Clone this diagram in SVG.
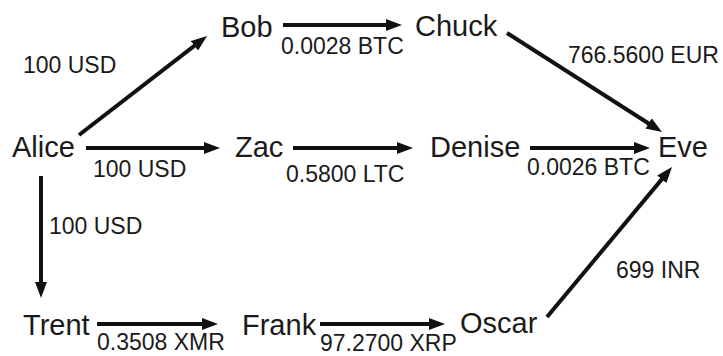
<svg xmlns="http://www.w3.org/2000/svg" width="723" height="356" viewBox="0 0 723 356">
  <style>
    .node { font-family: "Liberation Sans", Arial, sans-serif; font-size: 29px; fill: #1a1a1a; }
    .lbl { font-family: "Liberation Sans", Arial, sans-serif; font-size: 23px; fill: #1a1a1a; }
    .edge { stroke: #111; stroke-width: 4; fill: none; marker-end: url(#head); }
  </style>
  <defs>
    <marker id="head" viewBox="0 0 16 12" refX="8" refY="6" markerWidth="16" markerHeight="12" markerUnits="userSpaceOnUse" orient="auto">
      <path d="M0,0 L16,6 L0,12 z" fill="#111"/>
    </marker>
  </defs>

  <g id="connectors">
    <line class="edge" x1="79" y1="135" x2="200.7" y2="40.9"/>
    <line class="edge" x1="86" y1="148" x2="212" y2="148"/>
    <line class="edge" x1="41" y1="176" x2="41" y2="290"/>
    <line class="edge" x1="283" y1="25" x2="394" y2="25"/>
    <line class="edge" x1="293" y1="148" x2="405" y2="148"/>
    <line class="edge" x1="530" y1="148" x2="642" y2="148"/>
    <line class="edge" x1="507" y1="33" x2="655.3" y2="127.7"/>
    <line class="edge" x1="547" y1="317" x2="666.9" y2="173.1"/>
    <line class="edge" x1="97" y1="324" x2="210" y2="324"/>
    <line class="edge" x1="320" y1="324" x2="437" y2="324"/>
  </g>

  <g id="edge-labels">
    <text class="lbl" x="23" y="73">100 USD</text>
    <text class="lbl" x="281" y="54">0.0028 BTC</text>
    <text class="lbl" x="93" y="177">100 USD</text>
    <text class="lbl" x="286" y="182">0.5800 LTC</text>
    <text class="lbl" x="527" y="175">0.0026 BTC</text>
    <text class="lbl" x="568" y="63">766.5600 EUR</text>
    <text class="lbl" x="49" y="234">100 USD</text>
    <text class="lbl" x="616" y="278">699 INR</text>
    <text class="lbl" x="97" y="350">0.3508 XMR</text>
    <text class="lbl" x="320" y="351">97.2700 XRP</text>
  </g>

  <g id="alice"><text class="node" x="12" y="157">Alice</text></g>
  <g id="bob"><text class="node" x="221" y="37">Bob</text></g>
  <g id="chuck"><text class="node" x="415" y="36">Chuck</text></g>
  <g id="zac"><text class="node" x="235" y="157">Zac</text></g>
  <g id="denise"><text class="node" x="430" y="157">Denise</text></g>
  <g id="eve"><text class="node" x="658" y="157">Eve</text></g>
  <g id="trent"><text class="node" x="23" y="335">Trent</text></g>
  <g id="frank"><text class="node" x="242" y="335">Frank</text></g>
  <g id="oscar"><text class="node" x="460" y="333">Oscar</text></g>
</svg>
